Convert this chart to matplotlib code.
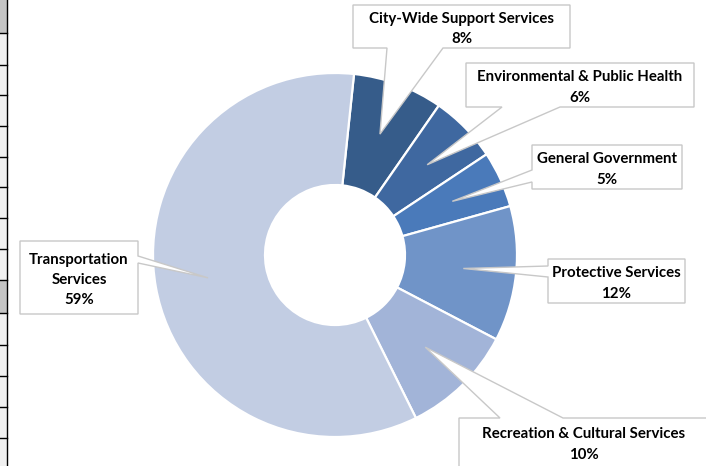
import numpy as np
import matplotlib
matplotlib.use("Agg")
import matplotlib.pyplot as plt
from matplotlib.patches import Polygon, Rectangle

# data
categories = ["City-Wide Support Services", "Environmental & Public Health",
              "General Government", "Protective Services",
              "Recreation & Cultural Services", "Transportation\nServices"]
shares = [8, 6, 5, 12, 10, 59]
colors = ["#365c8a", "#3f68a0", "#4a7aba", "#7094c8", "#a2b4d8", "#c2cde3"]

W, H = 706, 466

# callout layout in pixels (top-left origin): box, pointer side, pointer base
callouts = [
    ((353, 5, 570, 48), "bottom", (387, 443)),
    ((466, 63, 694, 107), "bottom", (502, 560)),
    ((532, 145, 682, 189), "left", (170, 182)),
    ((548, 259, 685, 303), "left", (266, 277)),
    ((459, 418, 708, 472), "top", (500, 563)),
    ((20, 241, 138, 314), "right", (256, 263)),
]

# spreadsheet row header strip at left edge
row_lines = [33, 65, 95, 126, 157, 187, 218, 249, 280, 313, 345, 376, 407, 438]
dark_rows = [(0, 33), (280, 313)]

plt.rcParams['font.family'] = ['Lato', 'DejaVu Sans']

fig = plt.figure(figsize=(W / 100, H / 100), dpi=100)
ax = fig.add_axes([0, 0, 1, 1])

cx, cy, r_out, r_in = 335, 255, 182, 70
wedges, _ = ax.pie(shares, colors=colors, startangle=84, counterclock=False,
                   center=(cx, H - cy), radius=r_out,
                   wedgeprops=dict(width=r_out - r_in, edgecolor="white", linewidth=1.6))
ax.set_xlim(0, W)
ax.set_ylim(0, H)
ax.set_aspect("equal")
ax.axis("off")


def bubble(box, side, base, tip):
    x0, y0, x1, y1 = box
    b1, b2 = base
    if side == "bottom":
        pts = [(x0, y0), (x1, y0), (x1, y1), (b2, y1), tip, (b1, y1), (x0, y1)]
    elif side == "top":
        pts = [(x0, y0), (b1, y0), tip, (b2, y0), (x1, y0), (x1, y1), (x0, y1)]
    elif side == "left":
        pts = [(x0, y0), (x1, y0), (x1, y1), (x0, y1), (x0, b2), tip, (x0, b1)]
    else:
        pts = [(x0, y0), (x1, y0), (x1, b1), tip, (x1, b2), (x1, y1), (x0, y1)]
    return [(px, H - py) for px, py in pts]


r_tip = 129
for w, cat, share, (box, side, base) in zip(wedges, categories, shares, callouts):
    mid = np.deg2rad((w.theta1 + w.theta2) / 2)
    tip_px = (cx + r_tip * np.cos(mid), cy - r_tip * np.sin(mid))
    poly = Polygon(bubble(box, side, base, tip_px), closed=True,
                   facecolor="white", edgecolor="#c8c8c8", linewidth=1.0, zorder=5)
    ax.add_patch(poly)
    x0, y0, x1, y1 = box
    if cat.startswith("Recreation"):
        ty = y0 + 26.5
    else:
        ty = (y0 + y1) / 2 + 2.5
    ax.text((x0 + x1) / 2, H - ty, f"{cat}\n{share}%", ha="center", va="center",
            fontsize=10.8, fontweight="bold", color="black", linespacing=1.55, zorder=6)

# row header strip
ax.add_patch(Rectangle((0, 0), 6.5, H, facecolor="#f0f0f0", edgecolor="none", zorder=1))
for a, b in dark_rows:
    ax.add_patch(Rectangle((0, H - b), 6.5, b - a, facecolor="#c4c4c4", edgecolor="none", zorder=1))
for y in row_lines:
    ax.plot([0, 6.5], [H - y, H - y], color="black", linewidth=1.0, zorder=2)
ax.plot([6.5, 6.5], [0, H], color="black", linewidth=1.0, zorder=2)

fig.savefig("out.png", dpi=100)
